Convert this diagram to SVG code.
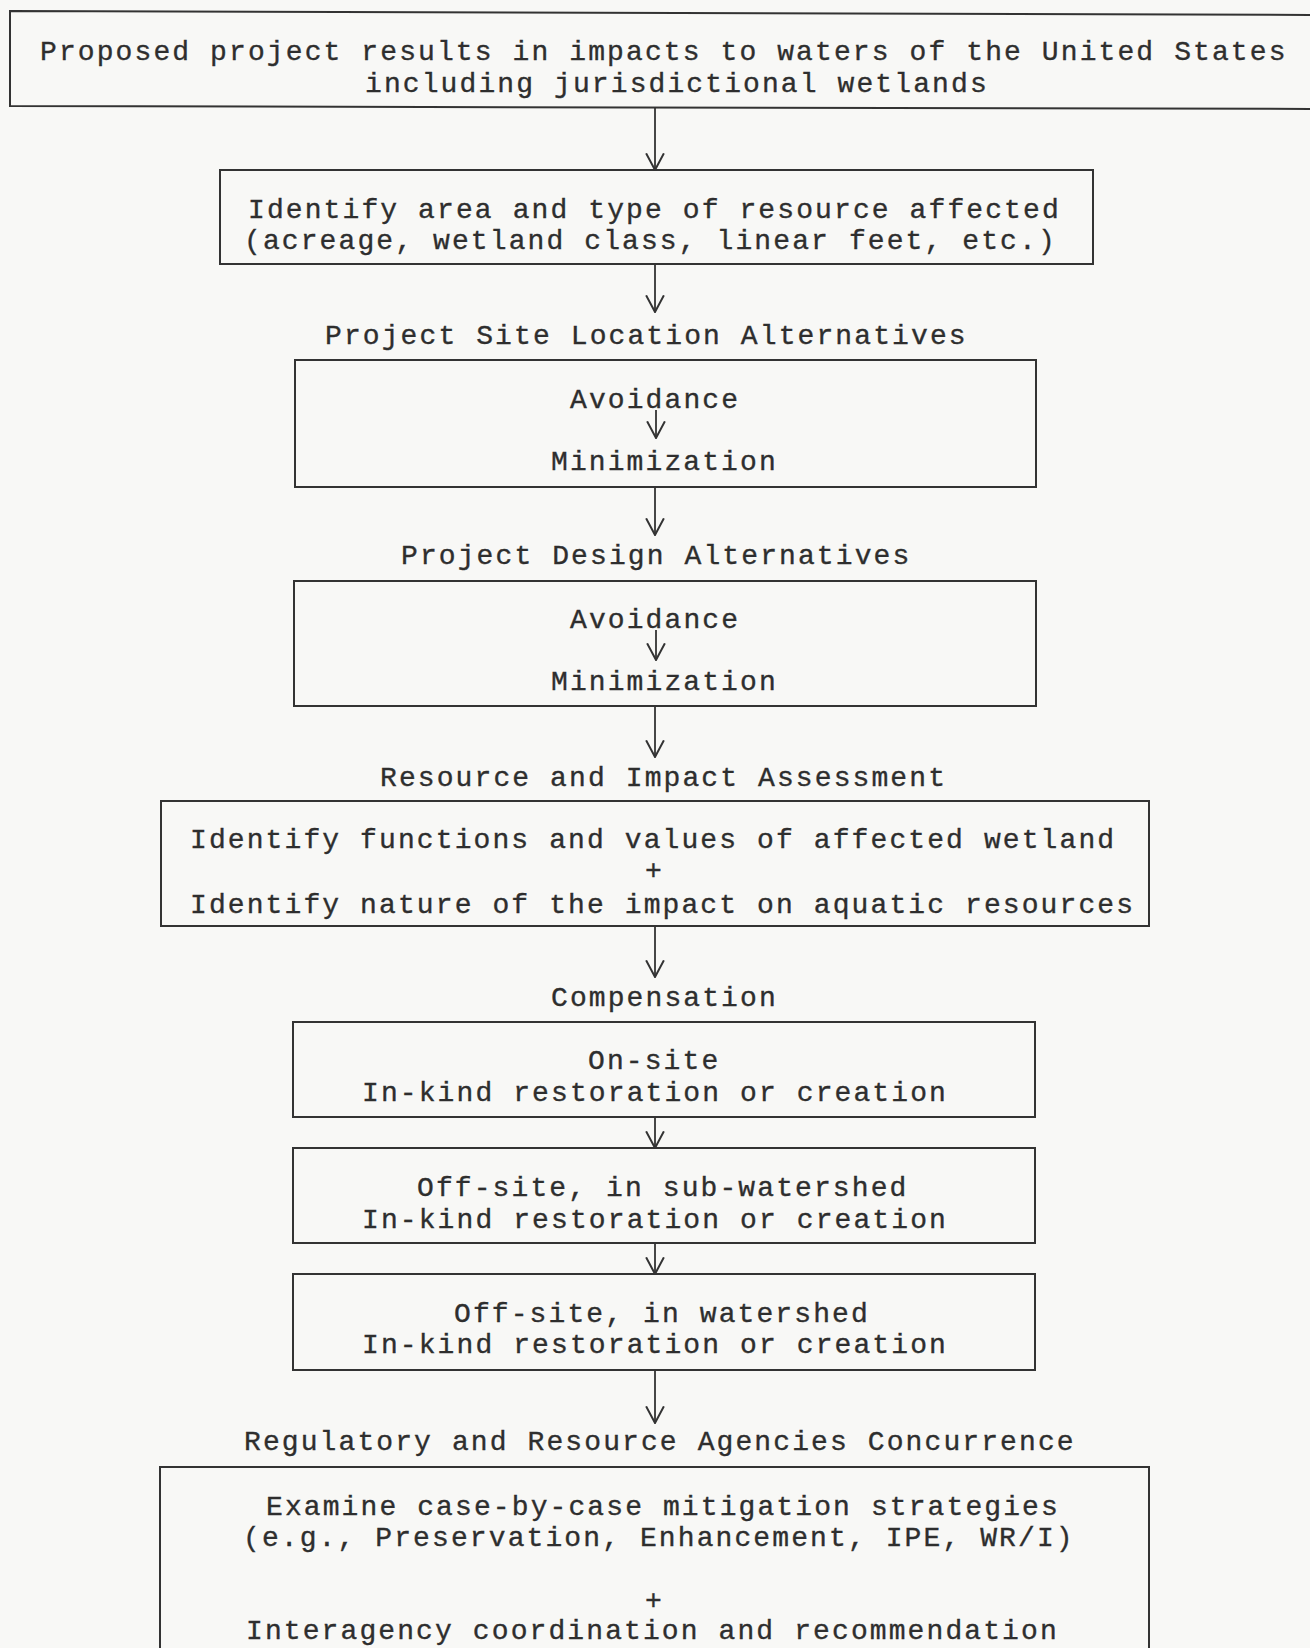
<svg xmlns="http://www.w3.org/2000/svg" width="1310" height="1648" viewBox="0 0 1310 1648">
<style>
.bg{fill:#f8f8f6}
.box{fill:none;stroke:#333;stroke-width:2}
.t{font-family:"Liberation Mono","Courier New",monospace;font-size:28px;letter-spacing:2.1px;fill:#2e2e2e;stroke:#2e2e2e;stroke-width:0.35}
.c line{stroke:#333;stroke-width:1.8;marker-end:url(#ah)}
</style>
<defs>
<marker id="ah" markerUnits="userSpaceOnUse" markerWidth="18" markerHeight="20" viewBox="0 0 16 18" refX="15" refY="9" orient="auto">
<path d="M0,1 L15,9 L0,17" fill="none" stroke="#333" stroke-width="1.8"/>
</marker>
</defs>
<rect class="bg" x="0" y="0" width="1310" height="1648"/>
<g id="n1">
<polygon class="box" points="10,11 1330,15 1330,109 10,106"/>
<text class="t" x="40" y="60">Proposed project results in impacts to waters of the United States</text>
<text class="t" x="365" y="92">including jurisdictional wetlands</text>
</g>
<g id="n2">
<rect class="box" x="220" y="170" width="873" height="94"/>
<text class="t" x="248" y="218">Identify area and type of resource affected</text>
<text class="t" x="244" y="249">(acreage, wetland class, linear feet, etc.)</text>
</g>
<g id="l1"><text class="t" x="325" y="344">Project Site Location Alternatives</text></g>
<g id="n3">
<rect class="box" x="295" y="360" width="741" height="127"/>
<text class="t" x="570" y="408">Avoidance</text>
<text class="t" x="551" y="470">Minimization</text>
</g>
<g id="l2"><text class="t" x="401" y="564">Project Design Alternatives</text></g>
<g id="n4">
<rect class="box" x="294" y="581" width="742" height="125"/>
<text class="t" x="570" y="628">Avoidance</text>
<text class="t" x="551" y="690">Minimization</text>
</g>
<g id="l3"><text class="t" x="380" y="786">Resource and Impact Assessment</text></g>
<g id="n5">
<rect class="box" x="161" y="801" width="988" height="125"/>
<text class="t" x="190" y="848">Identify functions and values of affected wetland</text>
<text class="t" x="645" y="879">+</text>
<text class="t" x="190" y="913">Identify nature of the impact on aquatic resources</text>
</g>
<g id="l4"><text class="t" x="551" y="1006">Compensation</text></g>
<g id="n6">
<rect class="box" x="293" y="1022" width="742" height="95"/>
<text class="t" x="588" y="1069">On-site</text>
<text class="t" x="362" y="1101">In-kind restoration or creation</text>
</g>
<g id="n7">
<rect class="box" x="293" y="1148" width="742" height="95"/>
<text class="t" x="417" y="1196">Off-site, in sub-watershed</text>
<text class="t" x="362" y="1228">In-kind restoration or creation</text>
</g>
<g id="n8">
<rect class="box" x="293" y="1274" width="742" height="96"/>
<text class="t" x="454" y="1322">Off-site, in watershed</text>
<text class="t" x="362" y="1353">In-kind restoration or creation</text>
</g>
<g id="l5"><text class="t" x="244" y="1450">Regulatory and Resource Agencies Concurrence</text></g>
<g id="n9">
<rect class="box" x="160" y="1467" width="989" height="260"/>
<text class="t" x="266" y="1515">Examine case-by-case mitigation strategies</text>
<text class="t" x="243" y="1546">(e.g., Preservation, Enhancement, IPE, WR/I)</text>
<text class="t" x="645" y="1609">+</text>
<text class="t" x="246" y="1639">Interagency coordination and recommendation</text>
</g>
<g id="connectors" class="c">
<line x1="655" y1="108" x2="655" y2="170"/>
<line x1="655" y1="265" x2="655" y2="312"/>
<line x1="656" y1="410" x2="656" y2="438"/>
<line x1="655" y1="487" x2="655" y2="535"/>
<line x1="656" y1="630" x2="656" y2="660"/>
<line x1="655" y1="706" x2="655" y2="757"/>
<line x1="655" y1="926" x2="655" y2="977"/>
<line x1="655" y1="1117" x2="655" y2="1148"/>
<line x1="655" y1="1243" x2="655" y2="1274"/>
<line x1="655" y1="1370" x2="655" y2="1423"/>
</g>
</svg>
